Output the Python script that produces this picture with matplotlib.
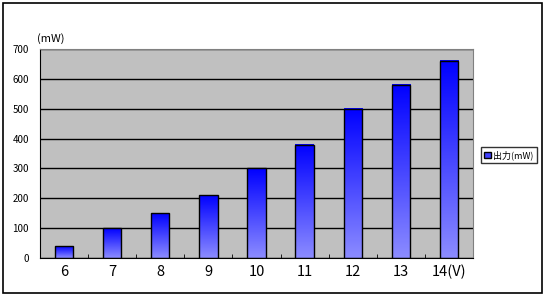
import numpy as np
import matplotlib.pyplot as plt
from matplotlib.colors import LinearSegmentedColormap
from matplotlib.patches import Rectangle

plt.rcParams['font.family'] = ['Noto Sans CJK JP', 'DejaVu Sans']

categories = ['6', '7', '8', '9', '10', '11', '12', '13', '14(V)']
values = [40, 100, 150, 210, 300, 380, 500, 580, 660]
series_name = '出力(mW)'

fig = plt.figure(figsize=(5.45, 2.96), dpi=100)
fig.patches.append(Rectangle((3 / 545, 3 / 296), 539 / 545, 290 / 296, transform=fig.transFigure,
                             fill=False, edgecolor='black', linewidth=1.2))
ax = fig.add_axes([40 / 545, 38 / 296, 433 / 545, 209 / 296])
ax.set_facecolor('#c0c0c0')

x = np.arange(len(categories))
width = 0.38
cmap = LinearSegmentedColormap.from_list('blu', ['#0000ff', '#8c8cff'])
grad = np.linspace(0, 1, 256).reshape(-1, 1)
bars = ax.bar(x, values, width=width, color='none', edgecolor='black', linewidth=1.0, zorder=3)
for b in bars:
    ax.imshow(grad, extent=[b.get_x(), b.get_x() + b.get_width(), 0, b.get_height()],
              cmap=cmap, aspect='auto', origin='upper', zorder=2)

ax.set_xlim(-0.5, len(categories) - 0.5)
ax.set_ylim(0, 700)
ax.set_yticks(range(0, 701, 100))
ax.yaxis.grid(True, color='black', linewidth=1.0)
ax.set_axisbelow(True)
ax.set_xticks(x)
ax.set_xticklabels(categories, fontsize=10.5)
ax.set_xticks(np.arange(-0.5, len(categories), 1), minor=True)
ax.tick_params(axis='x', which='major', length=0, pad=5)
ax.tick_params(axis='x', which='minor', length=3, direction='in')
ax.tick_params(axis='y', length=0, labelsize=7, pad=8)
for s in ['top', 'right']:
    ax.spines[s].set_color('#808080')
for s in ['left', 'bottom']:
    ax.spines[s].set_color('black')
fig.text(37 / 545, 1 - 44 / 296, '(mW)', fontsize=8, ha='left', va='bottom')

fig.legend([Rectangle((0, 0), 1, 1, facecolor='#4040ff', edgecolor='black')], [series_name],
           loc='center', bbox_to_anchor=(509 / 545, 1 - 155 / 296), fontsize=6.5,
           frameon=True, fancybox=False, edgecolor='black', handlelength=0.7, handleheight=0.7,
           handletextpad=0.3, borderpad=0.35)

fig.savefig('out.png', dpi=100)
